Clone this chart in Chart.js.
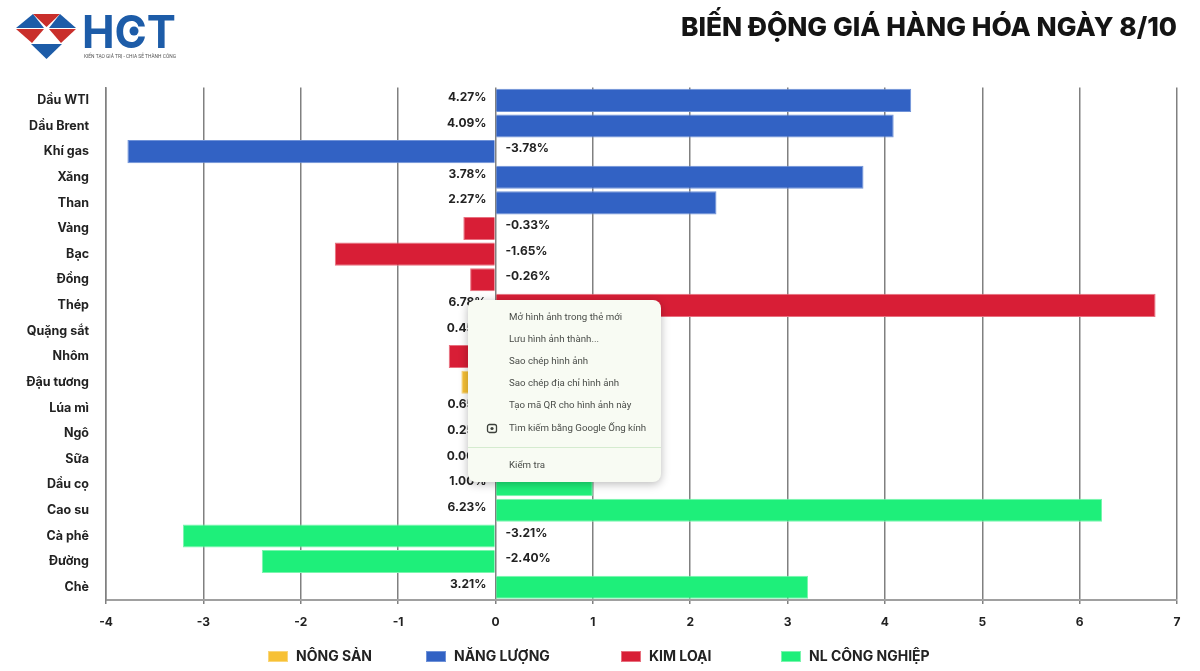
<!DOCTYPE html>
<html lang="vi">
<head>
<meta charset="utf-8">
<title>Biến động giá hàng hóa ngày 8/10</title>
<script src="https://cdn.jsdelivr.net/npm/chart.js@4"></script>
<style>
    html, body { margin: 0; padding: 0; background: #fff; }
    #khung { position: relative; width: 1200px; height: 671px; overflow: hidden; }
    #bieuDo { position: absolute; left: 0; top: 0; }
    #logo { position: absolute; left: 0; top: 0; }
    #chuGiai {
        position: absolute; left: 268px; top: 647px; display: flex; align-items: center;
        font: 700 14px Inter, sans-serif; color: #222; white-space: nowrap;
    }
    #chuGiai span { display: flex; align-items: center; position: absolute; top: 0; line-height: 18px; }
    #chuGiai i { display: inline-block; width: 20px; height: 11px; margin-right: 8px; box-sizing: border-box; border: 1px solid; }
    #menu {
        position: absolute; left: 468px; top: 300px; width: 193px; height: 182px;
        background: #f8fbf3; border-radius: 8px;
        box-shadow: 0 2px 10px rgba(0, 0, 0, .28);
        font: 9.7px Roboto, sans-serif; color: #4a4d49;
    }
    #menu div { position: absolute; left: 41px; white-space: nowrap; line-height: 12px; }
    #menu hr { position: absolute; left: 0; right: 0; top: 147px; margin: 0; border: 0; border-top: 1px solid #d5ebcf; }
    #menu svg { position: absolute; left: 18px; top: 122px; }
</style>
</head>
<body>
<div id="khung">
    <canvas id="bieuDo" width="1200" height="671"></canvas>

    <svg id="logo" width="190" height="70" viewBox="0 0 190 70">
        <polygon points="33,14 16,28 44,28" fill="#1d5ca8"/>
        <polygon points="33,14 60,14 46.5,27" fill="#c92f2b"/>
        <polygon points="60,14 76,28 49,28" fill="#1d5ca8"/>
        <polygon points="16,29 44,29 32,43" fill="#c92f2b"/>
        <polygon points="76,29 49,29 61,43" fill="#c92f2b"/>
        <polygon points="31,44 62,44 46.5,59" fill="#1d5ca8"/>
        <text x="82" y="48" font-family="Inter, sans-serif" font-weight="700" font-size="45" fill="#1d5ca8" textLength="94" lengthAdjust="spacingAndGlyphs">HCT</text>
        <circle cx="134" cy="31" r="4.5" fill="#1d5ca8"/>
        <text x="84" y="58" font-family="Roboto, sans-serif" font-size="4.6" fill="#555" textLength="92" lengthAdjust="spacingAndGlyphs">KIẾN TẠO GIÁ TRỊ - CHIA SẺ THÀNH CÔNG</text>
    </svg>

    <div id="chuGiai"></div>

    <div id="menu">
        <div style="top: 11px">Mở hình ảnh trong thẻ mới</div>
        <div style="top: 33px">Lưu hình ảnh thành...</div>
        <div style="top: 55px">Sao chép hình ảnh</div>
        <div style="top: 77px">Sao chép địa chỉ hình ảnh</div>
        <div style="top: 99px">Tạo mã QR cho hình ảnh này</div>
        <svg width="12" height="12" viewBox="0 0 12 12">
            <rect x="1.5" y="2.5" width="9" height="8" rx="2" fill="none" stroke="#3c403b" stroke-width="1.3"/>
            <circle cx="6" cy="6.5" r="1.6" fill="#3c403b"/>
        </svg>
        <div style="top: 122px">Tìm kiếm bằng Google Ống kính</div>
        <hr>
        <div style="top: 159px">Kiểm tra</div>
    </div>
</div>

<script>
// Du lieu doc tu hinh
const hangHoa = ['Dầu WTI', 'Dầu Brent', 'Khí gas', 'Xăng', 'Than', 'Vàng', 'Bạc', 'Đồng', 'Thép', 'Quặng sắt',
    'Nhôm', 'Đậu tương', 'Lúa mì', 'Ngô', 'Sữa', 'Dầu cọ', 'Cao su', 'Cà phê', 'Đường', 'Chè'];
const nongSan = [null, null, null, null, null, null, null, null, null, null,
    null, -0.35, 0.65, 0.25, 0.00, null, null, null, null, null];
const nangLuong = [4.27, 4.09, -3.78, 3.78, 2.27, null, null, null, null, null,
    null, null, null, null, null, null, null, null, null, null];
const kimLoai = [null, null, null, null, null, -0.33, -1.65, -0.26, 6.78, 0.45,
    -0.48, null, null, null, null, null, null, null, null, null];
const nlCongNghiep = [null, null, null, null, null, null, null, null, null, null,
    null, null, null, null, null, 1.00, 6.23, -3.21, -2.40, 3.21];
const tenNhom = ['NÔNG SẢN', 'NĂNG LƯỢNG', 'KIM LOẠI', 'NL CÔNG NGHIỆP'];

const FONT = 'Inter, sans-serif';

// Nhan %: so duong nam ben trai truc 0, so am nam ben phai
const nhanPhanTram = {
    id: 'nhanPhanTram',
    afterDatasetsDraw(chart) {
        const ctx = chart.ctx;
        const x0 = chart.scales.x.getPixelForValue(0);
        ctx.save();
        ctx.font = '700 12px ' + FONT;
        ctx.fillStyle = '#222';
        ctx.textBaseline = 'middle';
        chart.data.datasets.forEach((ds, i) => {
            chart.getDatasetMeta(i).data.forEach((bar, j) => {
                const v = ds.data[j];
                if (v === null) return;
                ctx.textAlign = v < 0 ? 'left' : 'right';
                ctx.fillText(v.toFixed(2) + '%', v < 0 ? x0 + 10 : x0 - 9, bar.y - 3);
            });
        });
        ctx.restore();
    }
};

function taoNhom(ten, data, mau, vien) {
    return { label: ten, data: data, backgroundColor: mau, borderColor: vien, borderWidth: 1,
        categoryPercentage: 1, barPercentage: 0.9 };
}

const bieuDo = new Chart(document.getElementById('bieuDo'), {
    type: 'bar',
    data: {
        labels: hangHoa,
        datasets: [
            taoNhom(tenNhom[0], nongSan, '#f7c136', '#fad67a'),
            taoNhom(tenNhom[1], nangLuong, '#3262c4', '#6f92d8'),
            taoNhom(tenNhom[2], kimLoai, '#d81e36', '#e8707f'),
            taoNhom(tenNhom[3], nlCongNghiep, '#1eef7a', '#7af5ae')
        ]
    },
    plugins: [nhanPhanTram],
    options: {
        indexAxis: 'y',
        responsive: false,
        animation: false,
        layout: { padding: { top: 12, right: 23, left: 0, bottom: 35 } },
        scales: {
            x: {
                stacked: true, min: -4, max: 7,
                ticks: { stepSize: 1, color: '#222', padding: 11, font: { family: FONT, size: 12, weight: '700' } },
                grid: { color: '#808080', lineWidth: 1.5, tickLength: 4 },
                border: { color: '#a0a0a0', width: 2 },
                afterFit(s) { s.height = 36; }
            },
            y: {
                stacked: true,
                ticks: { color: '#222', padding: 9, autoSkip: false, font: { family: FONT, size: 12.5, weight: '700' } },
                grid: { display: false },
                border: { color: '#808080', width: 1.5 },
                afterFit(s) { s.width = 106; }
            }
        },
        plugins: {
            title: {
                display: true, text: 'BIẾN ĐỘNG GIÁ HÀNG HÓA NGÀY 8/10', align: 'end', color: '#141414',
                font: { family: FONT, size: 26.3, weight: '800' }, padding: { top: 0, bottom: 44 }
            },
            legend: { display: false },
            tooltip: { enabled: false }
        }
    }
});

// Chu giai viet bang HTML de dat dung khoang cach khong deu nhu hinh goc
const viTriChuGiai = [0, 158, 353, 513];
bieuDo.data.datasets.forEach((ds, i) => {
    const muc = document.createElement('span');
    muc.style.left = viTriChuGiai[i] + 'px';
    const o = document.createElement('i');
    o.style.background = ds.backgroundColor;
    o.style.borderColor = ds.borderColor;
    muc.appendChild(o);
    muc.appendChild(document.createTextNode(ds.label));
    document.getElementById('chuGiai').appendChild(muc);
});
</script>
</body>
</html>
